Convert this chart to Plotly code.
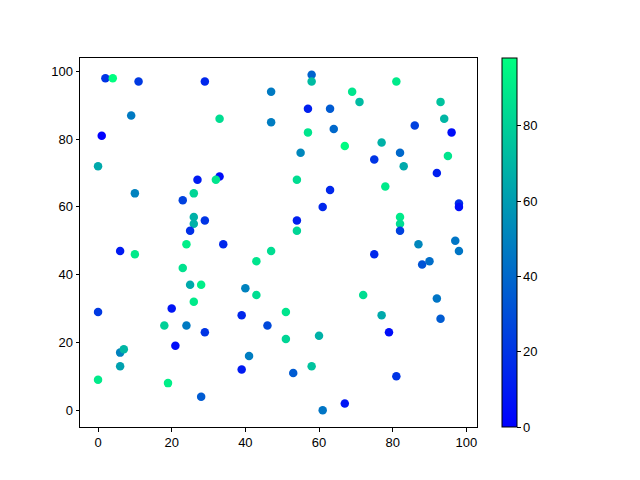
import plotly.graph_objects as go

x_vals = [2, 4, 11, 29, 9, 33, 1, 0, 33, 32, 27, 10, 26, 23, 26, 29, 26, 25, 24, 34,
          6, 10, 23, 25, 28, 26, 0, 20, 18, 24, 29, 21, 6, 7, 6, 0, 19, 28,
          58, 58, 47, 57, 63, 47, 57, 64, 67, 55, 54, 63, 61, 54, 54, 47,
          81, 69, 71, 93, 94, 86, 96, 77, 82, 75, 83, 95, 92, 78, 98, 98, 82, 82, 82,
          87, 97, 98, 75, 90, 88, 72, 92, 77, 93, 79, 81, 67,
          43, 40, 43, 51, 39, 46, 51, 60, 41, 39, 53, 58, 61]
y_vals = [98, 98, 97, 97, 87, 86, 81, 72, 69, 68, 68, 64, 64, 62, 57, 56, 55, 53, 49, 49,
          47, 46, 42, 37, 37, 32, 29, 30, 25, 25, 23, 19, 17, 18, 13, 9, 8, 4,
          99, 97, 94, 89, 89, 85, 82, 83, 78, 76, 68, 65, 60, 56, 53, 47,
          97, 94, 91, 91, 86, 84, 82, 79, 76, 74, 72, 75, 70, 66, 61, 60, 57, 55, 53,
          49, 50, 47, 46, 44, 43, 34, 33, 28, 27, 23, 10, 2,
          44, 36, 34, 29, 28, 25, 21, 22, 16, 12, 11, 13, 0]
c_vals = [20, 98, 22, 15, 47, 85, 0, 65, 5, 88, 10, 50, 82, 25, 68, 20, 68, 18, 92, 15,
          10, 90, 87, 65, 92, 90, 22, 8, 80, 47, 20, 5, 50, 70, 62, 90, 92, 35,
          38, 72, 47, 12, 35, 48, 88, 40, 97, 52, 85, 15, 15, 12, 82, 85,
          90, 88, 72, 75, 70, 25, 5, 68, 40, 20, 65, 88, 12, 90, 18, 5, 90, 85, 25,
          52, 45, 45, 15, 42, 32, 85, 45, 65, 35, 5, 20, 8,
          88, 50, 85, 88, 15, 28, 82, 68, 48, 10, 35, 75, 45]

cb_ticks = [0, 20, 40, 60, 80]
axis_ticks = [0, 20, 40, 60, 80, 100]

winter = [[0, "rgb(0,0,255)"], [1, "rgb(0,255,128)"]]
font = dict(family="Liberation Sans, Arial, sans-serif", size=13, color="black")

fig = go.Figure(go.Scatter(
    x=x_vals, y=y_vals, mode="markers",
    marker=dict(
        size=8.5, color=c_vals, colorscale=winter,
        cmin=min(c_vals), cmax=max(c_vals),
        line=dict(width=0),
        showscale=True,
        colorbar=dict(
            x=1.063, xanchor="left", y=0.5, yanchor="middle",
            len=1, lenmode="fraction", thickness=15, thicknessmode="pixels",
            outlinewidth=1, outlinecolor="black",
            tickvals=cb_ticks, ticks="outside", ticklen=3.5, tickcolor="black",
            tickfont=font,
            xpad=0, ypad=0,
        ),
    ),
))

axis_common = dict(
    showgrid=False, zeroline=False, showline=True, linecolor="black", linewidth=1,
    mirror=True, ticks="outside", ticklen=3.5, tickcolor="black",
    tickfont=font,
)

fig.update_layout(
    width=640, height=480,
    margin=dict(l=72, r=171, t=50, b=61),
    plot_bgcolor="white", paper_bgcolor="white",
    xaxis=dict(range=[-4.9, 102.9], tickvals=axis_ticks, **axis_common),
    yaxis=dict(range=[-4.95, 103.95], tickvals=axis_ticks, **axis_common),
    showlegend=False,
)

fig.write_html("out.html")
